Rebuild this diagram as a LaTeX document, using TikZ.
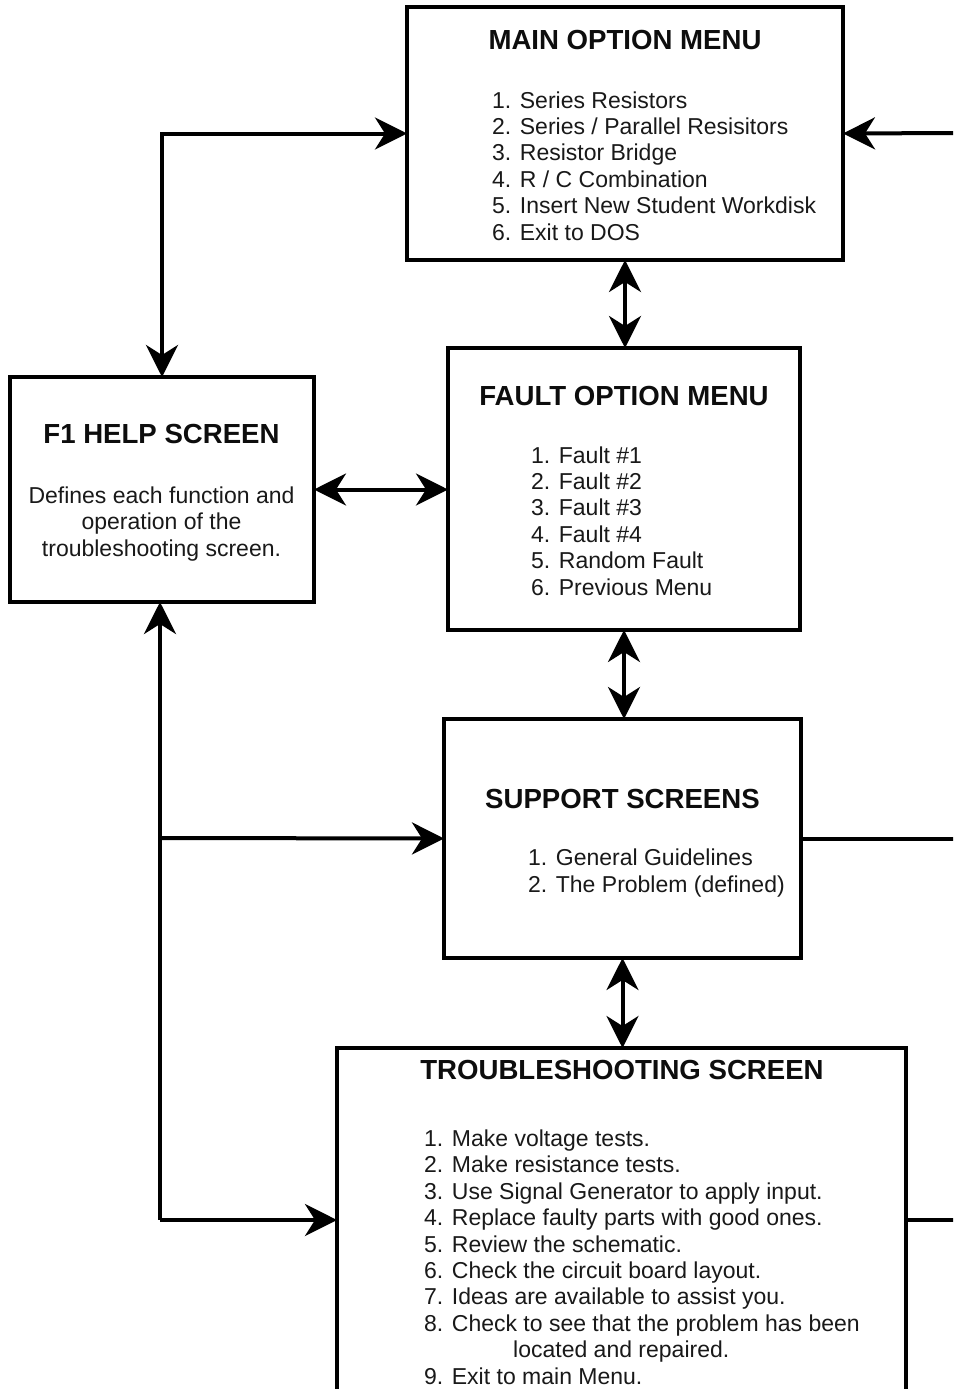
\documentclass[tikz,border=0pt]{standalone}
\usepackage{fontspec}
\setmainfont{Liberation Sans}
\usetikzlibrary{arrows.meta,calc}
\begin{document}
\begin{tikzpicture}[x=1pt,y=-1pt,
  box/.style={draw=black, line width=3.2pt, inner sep=0pt, outer sep=0pt},
  titletext/.style={inner sep=0pt, text=black!95, font=\fontsize{27.6}{30}\selectfont\bfseries},
  listtext/.style={inner sep=0pt, text=black!90, font=\fontsize{23}{26.4}\selectfont},
  conn/.style={draw=black, line width=4pt},
  tip/.tip={Stealth[length=32pt,width=32pt,inset=10pt]},
  both/.style={conn, tip-tip},
  toend/.style={conn, -tip}
]
\useasboundingbox (0,0) rectangle (953,1389);
\clip (0,0) rectangle (953,1389);
\fill[white] (0,0) rectangle (953,1389);

% boxes
\node[box, minimum width=436pt, minimum height=253pt] (main) at (625,133.5) {};
\node[box, minimum width=304pt, minimum height=225pt] (f1) at (162,489.5) {};
\node[box, minimum width=352pt, minimum height=282pt] (fault) at (624,489) {};
\node[box, minimum width=357pt, minimum height=239pt] (support) at (622.5,838.5) {};
\node[box, minimum width=569pt, minimum height=362pt] (trouble) at (621.5,1229) {};

% texts (base anchor of a multi-line node = baseline of its last line)
\node[titletext, anchor=base] (mainT) at (625,50) {MAIN OPTION MENU};
\node[listtext, anchor=base west, align=left] (mainL) at (492,240)
  {1. Series Resistors\\2. Series / Parallel Resisitors\\3. Resistor Bridge\\4. R / C Combination\\5. Insert New Student Workdisk\\6. Exit to DOS};

\node[titletext, anchor=base] (f1T) at (161.5,443) {F1 HELP SCREEN};
\node[listtext, anchor=base, align=center] (f1L) at (161.5,556)
  {Defines each function and\\operation of the\\troubleshooting screen.};

\node[titletext, anchor=base] (faultT) at (624,405) {FAULT OPTION MENU};
\node[listtext, anchor=base west, align=left] (faultL) at (531,595)
  {1. Fault \#1\\2. Fault \#2\\3. Fault \#3\\4. Fault \#4\\5. Random Fault\\6. Previous Menu};

\node[titletext, anchor=base] (supportT) at (622.5,808) {SUPPORT SCREENS};
\node[listtext, anchor=base west, align=left] (supportL) at (528,892)
  {1. General Guidelines\\2. The Problem (defined)};

\node[titletext, anchor=base] (troubleT) at (622,1079) {TROUBLESHOOTING SCREEN};
\node[listtext, anchor=base west, align=left] (troubleL) at (424,1384)
  {1. Make voltage tests.\\2. Make resistance tests.\\3. Use Signal Generator to apply input.\\4. Replace faulty parts with good ones.\\5. Review the schematic.\\6. Check the circuit board layout.\\7. Ideas are available to assist you.\\8. Check to see that the problem has been\\\hspace*{89pt}located and repaired.\\9. Exit to main Menu.};

% free ends on the right edge
\coordinate (rMain) at (960,133);
\coordinate (rSupport) at (960,840);
\coordinate (rTrouble) at (960,1220);
\coordinate (branch) at (160,838);
\coordinate (corner) at (160,1220);

% connectors
\draw[both] (main.south) -- (main.south |- fault.north);
\draw[both] (fault.south) -- (fault.south |- support.north);
\draw[both] (support.south) -- (support.south |- trouble.north);
\draw[both] (f1.east) -- (f1.east -| fault.west);
\draw[both] (f1.north) |- (main.west);
\draw[conn, tip-] ([xshift=-2pt]f1.south) -- (corner);
\draw[toend] (corner) -- (corner -| trouble.west);
\draw[toend] (branch) -- (support.west);
\draw[toend] (rMain) -- (main.east);
\draw[conn] (support.east) -- (support.east -| rSupport);
\draw[conn] (rTrouble -| trouble.east) -- (rTrouble);
\end{tikzpicture}
\end{document}
